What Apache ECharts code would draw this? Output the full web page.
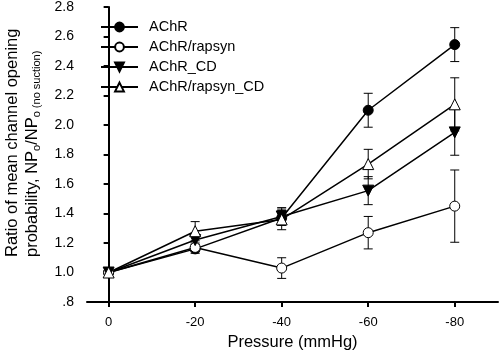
<!DOCTYPE html>
<html><head><meta charset="utf-8">
<script src="https://cdn.jsdelivr.net/npm/echarts@6/dist/echarts.min.js"></script>
<style>html,body{margin:0;padding:0;background:#fff}#c{width:500px;height:356px}</style>
</head><body><div id="c"></div>
<script>
var pressures = [0, 20, 40, 60, 80];
var xTickLabels = ['0', '-20', '-40', '-60', '-80'];
var names = ['AChR', 'AChR/rapsyn', 'AChR_CD', 'AChR/rapsyn_CD'];
var achr = [1.0, 1.16, 1.37, 2.10, 2.545];
var achrErr = [0, 0.03, 0.05, 0.115, 0.115];
var rapsyn = [1.0, 1.17, 1.03, 1.27, 1.45];
var rapsynErr = [0, 0.03, 0.07, 0.11, 0.245];
var achrCD = [1.0, 1.22, 1.38, 1.555, 1.95];
var achrCDErr = [0, 0.04, 0.06, 0.095, 0.155];
var rapsynCD = [1.0, 1.28, 1.36, 1.735, 2.14];
var rapsynCDErr = [0, 0.065, 0.07, 0.10, 0.18];

var FONT = 'Liberation Sans, Arial, sans-serif';
var chart = echarts.init(document.getElementById('c'));

function pts(vals) { return pressures.map(function (p, i) { return [p, vals[i]]; }); }
function errs(vals, e) { return pressures.map(function (p, i) { return [p, vals[i] - e[i], vals[i] + e[i]]; }).filter(function (d, i) { return e[i] > 0; }); }

function errSeries(vals, e) {
  return {
    type: 'custom', z: 1, silent: true,
    data: errs(vals, e),
    renderItem: function (params, api) {
      var x = api.value(0), lo = api.value(1), hi = api.value(2);
      var a = api.coord([x, lo]), b = api.coord([x, hi]);
      var w = 4.5;
      var st = { stroke: '#000', lineWidth: 1 };
      return { type: 'group', children: [
        { type: 'line', shape: { x1: a[0], y1: a[1], x2: b[0], y2: b[1] }, style: st },
        { type: 'line', shape: { x1: a[0] - w, y1: a[1], x2: a[0] + w, y2: a[1] }, style: st },
        { type: 'line', shape: { x1: b[0] - w, y1: b[1], x2: b[0] + w, y2: b[1] }, style: st }
      ]};
    }
  };
}

var downTri = 'path://M0,0 L10,0 L5,9 Z';
function lineSeries(name, vals, symbol, size, fill) {
  return {
    name: name, type: 'line', z: 3, data: pts(vals),
    symbol: symbol, symbolSize: size, showAllSymbol: true,
    lineStyle: { color: '#000', width: 1.5 },
    itemStyle: { color: fill, borderColor: '#000', borderWidth: 1 },
    emphasis: { disabled: true }, animation: false
  };
}

chart.setOption({
  animation: false,
  grid: { left: 87, right: 2, top: 6, bottom: 54 },
  xAxis: {
    type: 'value', min: -5, max: 90,
    name: 'Pressure (mmHg)', nameLocation: 'middle', nameGap: 31,
    nameTextStyle: { color: '#000', fontSize: 16.5, fontFamily: FONT },
    axisLine: { lineStyle: { color: '#000', width: 2 } },
    axisTick: { show: true, length: 5, lineStyle: { color: '#000', width: 2 }, customValues: pressures },
    axisLabel: { color: '#000', fontSize: 13, fontFamily: FONT, margin: 14, customValues: pressures,
      formatter: function (v) { var i = pressures.indexOf(v); return i >= 0 ? xTickLabels[i] : ''; } },
    splitLine: { show: false }
  },
  yAxis: {
    type: 'value', min: 0.8, max: 2.8, interval: 0.2,
    axisLine: { show: true, lineStyle: { color: '#000', width: 2 } },
    axisTick: { show: true, length: 5, lineStyle: { color: '#000', width: 2 } },
    axisLabel: { color: '#000', fontSize: 14, fontFamily: FONT, margin: 13,
      formatter: function (v) { var s = v.toFixed(1); return s.charAt(0) === '0' ? s.slice(1) : s; } },
    splitLine: { show: false }
  },
  legend: {
    left: 100, top: 19.5, orient: 'vertical', itemGap: 5, itemWidth: 37, itemHeight: 11,
    padding: 0,
    data: names,
    textStyle: { color: '#000', fontSize: 14.5, fontFamily: FONT, padding: [0, 0, 0, 6] }
  },
  graphic: [{
    type: 'text', x: 22, y: 257, rotation: Math.PI / 2,
    style: {
      text: 'Ratio of mean channel opening\nprobability, NP{s|o}/NP{s|o (no suction)}',
      fill: '#000', fontSize: 16.5, fontFamily: FONT, lineHeight: 20,
      align: 'left', verticalAlign: 'middle',
      rich: { s: { fontSize: 11, fontFamily: FONT, fill: '#000', verticalAlign: 'bottom', lineHeight: 20, padding: [6, 0, 0, 0] } }
    }
  }],
  series: [
    errSeries(achr, achrErr), errSeries(rapsyn, rapsynErr), errSeries(achrCD, achrCDErr), errSeries(rapsynCD, rapsynCDErr),
    lineSeries(names[0], achr, 'circle', 10, '#000'),
    lineSeries(names[1], rapsyn, 'circle', 10, '#fff'),
    lineSeries(names[2], achrCD, downTri, 11, '#000'),
    lineSeries(names[3], rapsynCD, 'triangle', 11, '#fff')
  ]
});
</script></body></html>
